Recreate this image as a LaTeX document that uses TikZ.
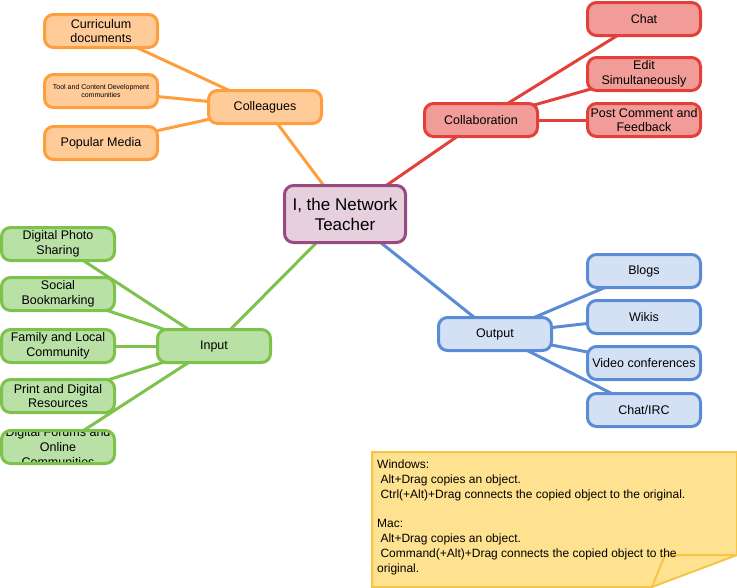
\documentclass[tikz,border=0pt]{standalone}
\usepackage{fontspec}
\setmainfont{Liberation Sans}
\usetikzlibrary{positioning,shapes}

\definecolor{orangeline}{HTML}{FF9E3D}
\definecolor{orangefill}{HTML}{FFCC99}
\definecolor{redline}{HTML}{E3403A}
\definecolor{redfill}{HTML}{F19C99}
\definecolor{greenline}{HTML}{7DC24B}
\definecolor{greenfill}{HTML}{B9E0A5}
\definecolor{blueline}{HTML}{5A8BD6}
\definecolor{bluefill}{HTML}{D4E1F5}
\definecolor{purpleline}{HTML}{9B4A80}
\definecolor{purplefill}{HTML}{E6D0DE}
\definecolor{noteline}{HTML}{F5C646}
\definecolor{notefill}{HTML}{FFE28F}

\pgfdeclarelayer{background}
\pgfsetlayers{background,main}

\tikzset{
  topic/.style={draw, rounded corners=9pt, line width=3pt, minimum width=113pt,
    minimum height=33pt, inner sep=1pt, align=center,
    font=\fontsize{12.5}{14.8}\selectfont},
  colleague/.style={topic, draw=orangeline, fill=orangefill},
  collab/.style={topic, draw=redline, fill=redfill},
  inputbox/.style={topic, draw=greenline, fill=greenfill},
  outputbox/.style={topic, draw=blueline, fill=bluefill},
  link/.style={line width=3pt},
}

\begin{document}
\begin{tikzpicture}[x=1pt,y=-1pt]
\useasboundingbox (0,0) rectangle (737,587);

% centre
\node[topic, draw=purpleline, fill=purplefill, minimum width=121pt, minimum height=57pt,
  font=\fontsize{17}{20}\selectfont] (teacher) at (345,214) {I, the Network\\Teacher};

% colleagues
\node[colleague] (colleagues) at (265,107) {Colleagues};
\node[colleague] (curriculum) at (101,31) {Curriculum\\documents};
\node[colleague, font=\fontsize{7}{8.5}\selectfont] (toolcomm) at (101,91) {Tool and Content Development\\communities};
\node[colleague] (media) at (101,143) {Popular Media};

% collaboration
\node[collab] (collaboration) at (481,120) {Collaboration};
\node[collab] (chat) at (644,19) {Chat};
\node[collab] (edit) at (644,74) {Edit\\Simultaneously};
\node[collab] (post) at (644,120) {Post Comment and\\Feedback};

% input
\node[inputbox] (input) at (214,346) {Input};
\node[inputbox] (photo) at (58,244) {Digital Photo\\Sharing};
\node[inputbox] (bookmark) at (58,294) {Social\\Bookmarking};
\node[inputbox] (family) at (58,346) {Family and Local\\Community};
\node[inputbox] (print) at (58,396) {Print and Digital\\Resources};
\node[inputbox, path picture={\node[align=center, font=\fontsize{12.5}{14.8}\selectfont]
  at (path picture bounding box.center) {Digital Forums and\\Online\\Communities};}]
  (forums) at (58,447) {};

% output
\node[outputbox] (output) at (495,334) {Output};
\node[outputbox] (blogs) at (644,271) {Blogs};
\node[outputbox] (wikis) at (644,317) {Wikis};
\node[outputbox] (video) at (644,363) {Video conferences};
\node[outputbox] (irc) at (644,410) {Chat/IRC};

\begin{pgfonlayer}{background}
  \draw[link, orangeline] (teacher.center) -- (colleagues.center);
  \foreach \leaf in {curriculum,toolcomm,media}
    \draw[link, orangeline] (colleagues.center) -- (\leaf.center);
  \draw[link, redline] (teacher.center) -- (collaboration.center);
  \foreach \leaf in {chat,edit,post}
    \draw[link, redline] (collaboration.center) -- (\leaf.center);
  \draw[link, greenline] (teacher.center) -- (input.center);
  \foreach \leaf in {photo,bookmark,family,print,forums}
    \draw[link, greenline] (input.center) -- (\leaf.center);
  \draw[link, blueline] (teacher.center) -- (output.center);
  \foreach \leaf in {blogs,wikis,video,irc}
    \draw[link, blueline] (output.center) -- (\leaf.center);
\end{pgfonlayer}

% sticky note
\draw[line width=2pt, draw=noteline, fill=notefill] (372,452) -- (737,452) -- (737,555)
  -- (652,587) -- (372,587) -- cycle;
\draw[line width=2pt, draw=noteline] (737,555) -- (665,555) -- (652,587);
\node[anchor=base west, inner sep=0pt, align=left, font=\fontsize{12}{14.8}\selectfont]
  (hint) at (377,572) {Windows:\\
  \ Alt+Drag copies an object.\\
  \ Ctrl(+Alt)+Drag connects the copied object to the original.\\[14.8pt]
  Mac:\\
  \ Alt+Drag copies an object.\\
  \ Command(+Alt)+Drag connects the copied object to the\\
  original.};
\end{tikzpicture}
\end{document}
